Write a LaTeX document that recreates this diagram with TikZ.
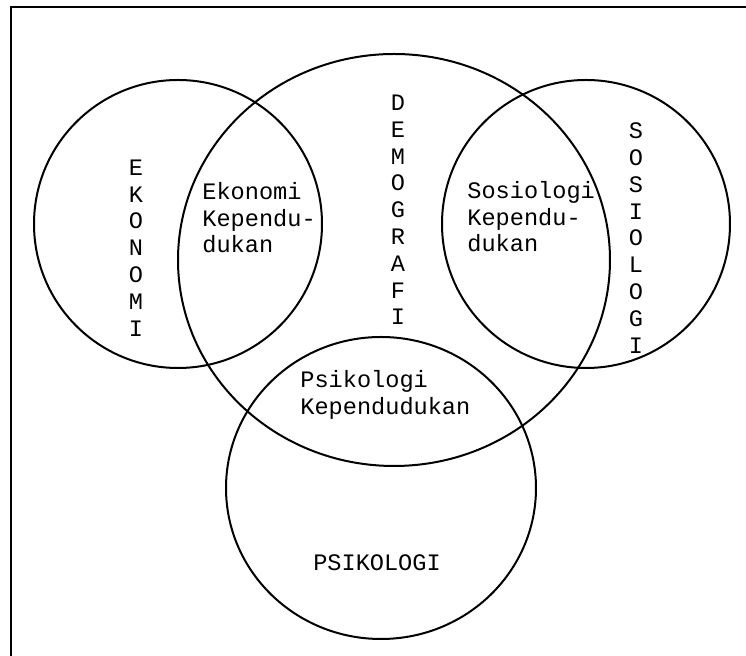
\documentclass[tikz,border=0pt]{standalone}
\usepackage{fontspec}
\newfontfamily\mono{Liberation Mono}
\newcommand{\txt}{\mono\fontsize{11.8pt}{13.3pt}\selectfont}
\newcommand{\stack}{\mono\fontsize{11.8pt}{13.4pt}\selectfont}
\tikzset{
  ring/.style={draw, line width=1pt},
  frame/.style={draw, line width=1.3pt},
  lbl/.style={font=\txt, align=left, inner sep=0pt, anchor=west},
  col/.style={font=\stack, align=center, inner sep=0pt},
}
\begin{document}
\begin{tikzpicture}[x=0.5pt, y=-0.5pt]
        \useasboundingbox (0,0) rectangle (746,656);
        % bingkai
        \draw[frame] (11,656) -- (11,7) -- (746,7);

        % lingkaran
        \coordinate (eko) at (178,224);
        \coordinate (dem) at (394,260);
        \coordinate (sos) at (586,224);
        \coordinate (psi) at (381,488);
        \draw[ring] (eko) circle[x radius=144, y radius=144];
        \draw[ring] (dem) circle[x radius=216, y radius=206];
        \draw[ring] (sos) circle[x radius=144, y radius=144];
        \draw[ring] (psi) circle[x radius=155, y radius=151];

        % nama bidang
        \node[col] (tEko) at (136,248) {E\\K\\O\\N\\O\\M\\I};
        \node[col] (tDem) at (398,210) {D\\E\\M\\O\\G\\R\\A\\F\\I};
        \node[col] (tSos) at (636,238) {S\\O\\S\\I\\O\\L\\O\\G\\I};
        \node[font=\txt, inner sep=0pt] (tPsi) at (377,563) {PSIKOLOGI};

        % irisan
        \node[lbl] (iEko) at (202,218) {Ekonomi\\Kependu-\\dukan};
        \node[lbl] (iSos) at (467,217) {Sosiologi\\Kependu-\\dukan};
        \node[lbl] (iPsi) at (300,395) {Psikologi\\Kependudukan};
\end{tikzpicture}
\end{document}
